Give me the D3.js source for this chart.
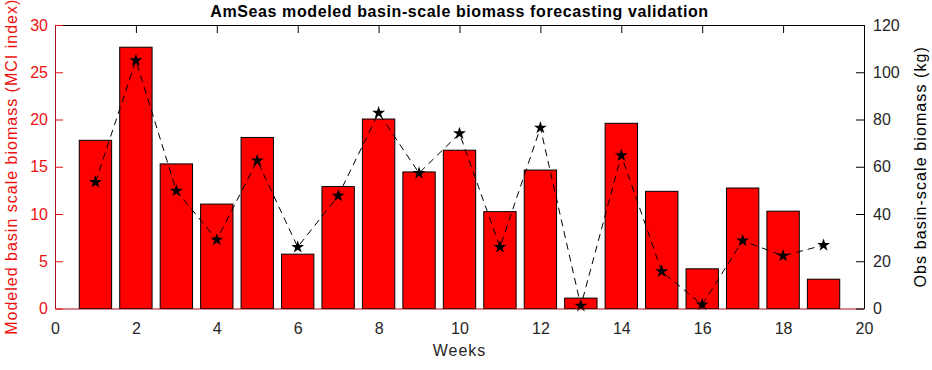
<!DOCTYPE html>
<html>
<head>
<meta charset="utf-8">
<script src="https://cdn.jsdelivr.net/npm/d3@7"></script>
<style>
  body { margin: 0; background: #fff; }
  text { font-family: "Liberation Sans", Arial, sans-serif; }
</style>
</head>
<body>
<div id="chart"></div>
<script>
// weeks on the x axis
var weeks = [1, 2, 3, 4, 5, 6, 7, 8, 9, 10, 11, 12, 13, 14, 15, 16, 17, 18, 19];
// modeled biomass (MCI index), left axis, bars
var modeled = [17.8, 27.65, 15.3, 11.05, 18.1, 5.75, 12.9, 20.05, 14.45, 16.75, 10.25, 14.65, 1.1, 19.6, 12.4, 4.2, 12.75, 10.3, 3.1];
// observed biomass (kg), right axis, stars
var observed = [53.5, 105, 49.8, 29.1, 62.6, 26.0, 47.7, 82.8, 57.3, 74.1, 26.0, 76.5, 1.1, 64.8, 15.7, 1.6, 28.7, 22.3, 26.8];

var xTicks = [0, 2, 4, 6, 8, 10, 12, 14, 16, 18, 20];
var leftTicks = [0, 5, 10, 15, 20, 25, 30];
var rightTicks = [0, 20, 40, 60, 80, 100, 120];

var margin = {top: 25, right: 68, bottom: 61.5, left: 55};
var width = 932 - margin.left - margin.right;
var height = 370 - margin.top - margin.bottom;

var red = "#ee1111";
var darkRed = "#a3121c";
var grey = "#262626";

var svg = d3.select("#chart")
    .append("svg")
    .attr("width", 932)
    .attr("height", 370)
    .append("g")
    .attr("transform", "translate(" + margin.left + "," + margin.top + ")");

var xScale = d3.scaleLinear().domain([0, 20]).range([0, width]);
var yLeft = d3.scaleLinear().domain([0, 30]).range([height, 0]);
var yRight = d3.scaleLinear().domain([0, 120]).range([height, 0]);

var barW = xScale(0.8) - xScale(0);

// bars
svg.selectAll("rect.bar")
    .data(weeks)
    .enter()
    .append("rect")
    .attr("class", "bar")
    .attr("x", function(d) { return xScale(d) - barW / 2; })
    .attr("width", barW)
    .attr("y", function(d, i) { return yLeft(modeled[i]); })
    .attr("height", function(d, i) { return height - yLeft(modeled[i]); })
    .attr("fill", "#ff0000")
    .attr("stroke", "#000")
    .attr("stroke-width", 1);

// observed line
var line = d3.line()
    .x(function(d) { return xScale(d); })
    .y(function(d, i) { return yRight(observed[i]); });

svg.append("path")
    .datum(weeks)
    .attr("d", line)
    .attr("fill", "none")
    .attr("stroke", "#000")
    .attr("stroke-width", 1)
    .attr("stroke-dasharray", "7,5");

svg.selectAll("path.star")
    .data(weeks)
    .enter()
    .append("path")
    .attr("class", "star")
    .attr("d", d3.symbol().type(d3.symbolStar).size(52))
    .attr("transform", function(d, i) { return "translate(" + xScale(d) + "," + yRight(observed[i]) + ")"; })
    .attr("fill", "#000");

// axes
var axisTop = d3.axisTop(xScale).tickValues(xTicks).tickSizeInner(-8).tickSizeOuter(0).tickFormat("");
var axisBottom = d3.axisBottom(xScale).tickValues(xTicks).tickSize(0).tickPadding(14);
var axisLeft = d3.axisLeft(yLeft).tickValues(leftTicks).tickSizeInner(-8).tickSizeOuter(0).tickPadding(7);
var axisRight = d3.axisRight(yRight).tickValues(rightTicks).tickSizeInner(-8).tickSizeOuter(0).tickPadding(9);

var gTop = svg.append("g").call(axisTop);
gTop.select(".domain").attr("stroke", "#000");
gTop.selectAll(".tick line").attr("stroke", "#000");

var gBottom = svg.append("g")
    .attr("transform", "translate(0," + height + ")")
    .call(axisBottom);
gBottom.select(".domain").attr("stroke", darkRed);
gBottom.selectAll("text").attr("fill", grey).style("font-size", "16px");

var gLeft = svg.append("g").call(axisLeft);
gLeft.select(".domain").attr("stroke", darkRed);
gLeft.selectAll(".tick line").attr("stroke", red);
gLeft.selectAll("text").attr("fill", red).style("font-size", "16px");

var gRight = svg.append("g")
    .attr("transform", "translate(" + width + ",0)")
    .call(axisRight);
gRight.select(".domain").attr("stroke", "#000");
gRight.selectAll(".tick line").attr("stroke", "#000");
gRight.selectAll("text").attr("fill", grey).style("font-size", "16px");

// titles
svg.append("text")
    .attr("x", width / 2)
    .attr("y", -8)
    .attr("text-anchor", "middle")
    .style("font-size", "16px")
    .style("font-weight", "bold")
    .style("letter-spacing", "0.6px")
    .attr("fill", "#000")
    .text("AmSeas modeled basin-scale biomass forecasting validation");

svg.append("text")
    .attr("x", width / 2)
    .attr("y", height + 47)
    .attr("text-anchor", "middle")
    .style("font-size", "16px")
    .style("letter-spacing", "1px")
    .attr("fill", grey)
    .text("Weeks");

svg.append("text")
    .attr("transform", "translate(" + (-38) + "," + (height / 2) + ") rotate(-90)")
    .attr("text-anchor", "middle")
    .style("font-size", "16px")
    .style("letter-spacing", "1px")
    .attr("fill", red)
    .text("Modeled basin scale biomass (MCI index)");

svg.append("text")
    .attr("transform", "translate(" + (width + 62) + "," + (height / 2) + ") rotate(-90)")
    .attr("text-anchor", "middle")
    .style("font-size", "16px")
    .style("letter-spacing", "1.1px")
    .attr("fill", "#000")
    .text("Obs basin-scale biomass (kg)");
</script>
</body>
</html>
